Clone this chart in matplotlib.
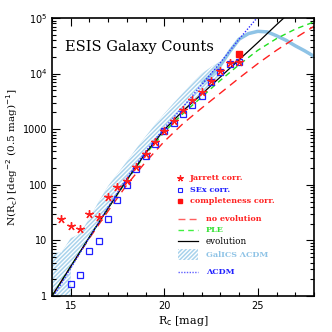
import numpy as np
import matplotlib
matplotlib.use("Agg")
import matplotlib.pyplot as plt
from matplotlib.ticker import FixedLocator, FixedFormatter, LogLocator, NullFormatter, MultipleLocator
from matplotlib.patches import Rectangle
from matplotlib.lines import Line2D

# ---- data ----
mag_jarrett = [14.5, 15.0, 15.5, 16.0, 16.5, 17.0, 17.5, 18.0, 18.5, 19.0, 19.5, 20.0,
               20.5, 21.0, 21.5, 22.0, 22.5, 23.0, 23.5, 24.0]
n_jarrett = [24.4, 18.0, 15.9, 29.6, 26.2, 61.6, 93, 117, 205, 357, 578, 940,
             1420, 2180, 3310, 4680, 7270, 11000, 15300, 16500]

mag_sex = [15.0, 15.5, 16.0, 16.5, 17.0, 17.5, 18.0, 18.5, 19.0, 19.5, 20.0,
           20.5, 21.0, 21.5, 22.0, 22.5, 23.0, 23.5, 24.0]
n_sex = [1.62, 2.42, 6.56, 9.9, 24.4, 54.4, 100, 190, 333, 548, 913,
         1290, 1900, 2760, 3900, 6980, 10700, 15100, 16000]

mag_compl = [24.0]
n_compl = [22900]

model_mag = [14, 15, 16, 17, 18, 19, 20, 21, 22, 23, 24, 25, 26, 27, 28]
log_evolution = [0.0, 0.53, 1.06, 1.58, 2.09, 2.57, 2.99, 3.33, 3.63, 3.94, 4.25, 4.56, 4.88, 5.19, 5.5]
log_ple = [0.0, 0.53, 1.06, 1.58, 2.08, 2.55, 2.95, 3.28, 3.58, 3.88, 4.16, 4.42, 4.63, 4.80, 4.93]
log_noevol = [0.0, 0.53, 1.04, 1.53, 2.0, 2.41, 2.78, 3.10, 3.38, 3.65, 3.92, 4.18, 4.42, 4.64, 4.85]

lcdm_mag = [14, 15, 16, 17, 18, 19, 20, 21, 22, 23, 24, 25, 25.5]
log_lcdm = [-0.05, 0.5, 1.05, 1.6, 2.12, 2.6, 3.02, 3.4, 3.8, 4.2, 4.62, 5.02, 5.25]

galics_mag = [14.0, 14.5, 15.0, 15.0, 15.5, 16.0, 16.5, 17.0, 17.5, 18.0, 18.5, 19.0, 19.5,
              20.0, 20.5, 21.0, 21.5, 22.0, 22.5, 23.0]
galics_log_hi = [0.78, 0.78, 1.04, 1.04, 1.12, 1.40, 1.70, 1.98, 2.20, 2.42, 2.65, 2.87, 3.08,
                 3.28, 3.47, 3.65, 3.83, 4.00, 4.12, 4.22]
galics_log_lo = [-1.0, -1.0, -1.0, 0.48, 0.78, 1.04, 1.30, 1.56, 1.80, 2.06, 2.30, 2.53, 2.75,
                 2.95, 3.14, 3.30, 3.48, 3.62, 3.80, 3.98]
galics_line_mag = [22.0, 22.5, 23.0, 23.5, 24.0, 24.5, 25.0, 25.5, 26.0, 26.5, 27.0, 27.5, 28.0]
galics_line_log = [3.82, 3.98, 4.15, 4.40, 4.62, 4.72, 4.76, 4.75, 4.68, 4.60, 4.50, 4.41, 4.31]

ytick_vals = [1, 10, 100, 1000, 1e4, 1e5]
ytick_labels = ["1", "10", "100", "1000", r"10$^4$", r"10$^5$"]
xtick_vals = [15, 20, 25]

# ---- figure ----
fig = plt.figure(figsize=(3.32, 3.32), dpi=100)
ax = fig.add_axes([0.1566, 0.1084, 0.7892, 0.8374])
ax.set_yscale("log")
ax.set_xlim(14, 28)
ax.set_ylim(1, 1e5)

lb = "#8ec3e6"
bandface = "#a9d3ec"
gm = np.array(galics_mag)
ax.fill_between(gm, 10 ** np.array(galics_log_lo), 10 ** np.array(galics_log_hi),
                facecolor=bandface, edgecolor="white", hatch="////////", linewidth=0)
ax.plot(galics_line_mag, 10 ** np.array(galics_line_log), color=lb, lw=2.5, solid_capstyle="butt")

mm = np.array(model_mag)
ax.plot(mm, 10 ** np.array(log_noevol), color="#ff2020", lw=1.0, ls=(0, (6, 4)))
ax.plot(mm, 10 ** np.array(log_ple), color="#20e020", lw=1.0, ls=(0, (4, 3)))
ax.plot(mm, 10 ** np.array(log_evolution), color="black", lw=0.9)
ax.plot(lcdm_mag, 10 ** np.array(log_lcdm), color="#3030ff", lw=1.0, ls=(0, (1, 1.2)))

ax.plot(mag_sex, n_sex, ls="none", marker="s", ms=4.2, mfc="none", mec="#2020ff", mew=0.9)
ax.plot(mag_jarrett, n_jarrett, ls="none", marker=(5, 2, 0), ms=6, mec="#ff2020", mew=1.0)
ax.plot(mag_compl, n_compl, ls="none", marker="s", ms=4.2, mfc="#ff1010", mec="#ff1010")

# ticks
ax.xaxis.set_major_locator(FixedLocator(xtick_vals))
ax.xaxis.set_minor_locator(MultipleLocator(1))
ax.yaxis.set_major_locator(FixedLocator(ytick_vals))
ax.yaxis.set_major_formatter(FixedFormatter(ytick_labels))
ax.yaxis.set_minor_locator(LogLocator(base=10, subs=np.arange(2, 10)))
ax.yaxis.set_minor_formatter(NullFormatter())
ax.tick_params(which="both", direction="in", top=True, right=True, labelsize=7, width=0.8)
ax.tick_params(which="major", length=6)
ax.tick_params(which="minor", length=3)
for s in ax.spines.values():
    s.set_linewidth(1.2)

serif = "DejaVu Serif"
ax.set_xlabel(r"R$_{\rm c}$ [mag]", family=serif, fontsize=8, labelpad=2)
ax.set_ylabel(r"N(R$_{\rm c}$) [deg$^{-2}$ (0.5 mag)$^{-1}$]", family=serif, fontsize=7.5, labelpad=2)

ax.text(0.05, 0.895, "ESIS Galaxy Counts", transform=ax.transAxes, family=serif,
        fontsize=10.5, va="center", ha="left")

# legend (manual, axes fraction coords)
def fx(px):
    return (px - 52) / 262.0

def fy(py):
    return (296 - py) / 278.0

fs = 5.8
tx = fx(190)
items = [
    (178, "star", "Jarrett corr.", "#ff2020"),
    (190, "sq", "SEx corr.", "#2020ff"),
    (201, "fsq", "completeness corr.", "#ff2020"),
]
for py, kind, label, col in items:
    if kind == "star":
        ax.plot([fx(180)], [fy(py)], transform=ax.transAxes, marker=(5, 2, 0), ms=4.5,
                mec="#ff2020", mew=0.9, ls="none")
    elif kind == "sq":
        ax.plot([fx(180)], [fy(py)], transform=ax.transAxes, marker="s", ms=3.2,
                mfc="none", mec="#2020ff", mew=0.8, ls="none")
    else:
        ax.plot([fx(180)], [fy(py)], transform=ax.transAxes, marker="s", ms=3.2,
                mfc="#ff1010", mec="#ff1010", ls="none")
    ax.text(tx, fy(py), label, transform=ax.transAxes, color=col, family=serif,
            fontsize=fs, va="center", ha="left", fontweight="bold")

lines = [
    (219, dict(color="#ff6060", lw=1.0, ls=(0, (5, 3))), "no evolution", "#ff2020"),
    (230, dict(color="#40f040", lw=1.0, ls=(0, (4, 3))), "PLE", "#30e030"),
    (241, dict(color="black", lw=0.9), "evolution", "black"),
    (272, dict(color="#6060ff", lw=1.0, ls=(0, (1, 1))), "ΛCDM", "#2020ff"),
]
for py, kw, label, col in lines:
    ax.add_line(Line2D([fx(178), fx(198)], [fy(py), fy(py)], transform=ax.transAxes, **kw))
    ax.text(fx(206), fy(py), label, transform=ax.transAxes, color=col, family=serif,
            fontsize=fs if label != "evolution" else 6.3, va="center", ha="left",
            fontweight="bold" if label != "evolution" else "normal")

ax.add_patch(Rectangle((fx(178), fy(260)), fx(198) - fx(178), fy(249) - fy(260),
                       transform=ax.transAxes, facecolor=bandface, edgecolor="white",
                       hatch="////////", lw=0))
ax.text(fx(206), fy(255), "GalICS ΛCDM", transform=ax.transAxes, color="#8ec3e6",
        family=serif, fontsize=fs, va="center", ha="left", fontweight="bold")

fig.savefig("out.png", dpi=100)
